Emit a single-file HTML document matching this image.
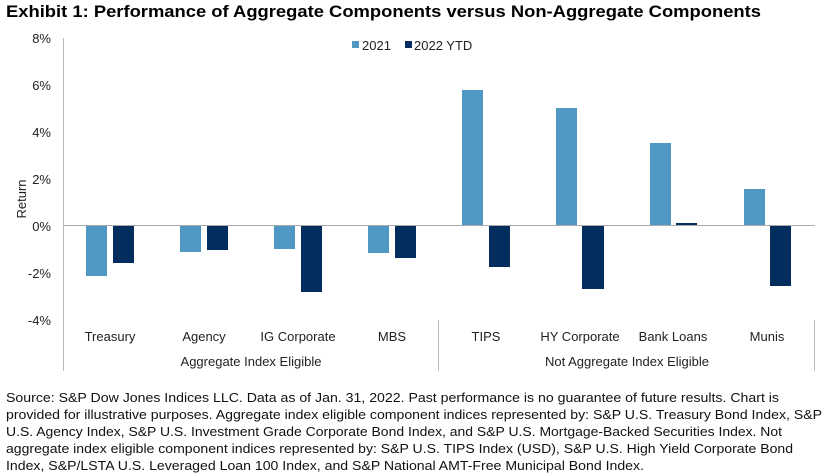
<!DOCTYPE html>
<html><head><meta charset="utf-8"><style>body{margin:0;background:#fff}svg{display:block}text{font-family:"Liberation Sans",Arial,sans-serif}</style></head><body>
<svg width="825" height="476" viewBox="0 0 825 476" xmlns="http://www.w3.org/2000/svg">
<rect width="825" height="476" fill="#fff"/>
<text x="6" y="17" font-size="16.5" font-weight="bold" fill="#000" textLength="755" lengthAdjust="spacingAndGlyphs">Exhibit 1: Performance of Aggregate Components versus Non-Aggregate Components</text>
<g font-size="13" fill="#222" text-anchor="end">
<text x="51" y="43">8%</text><text x="51" y="90">6%</text><text x="51" y="137">4%</text><text x="51" y="184">2%</text><text x="51" y="231">0%</text><text x="51" y="278">-2%</text><text x="51" y="325">-4%</text>
</g>
<text transform="translate(26,199) rotate(-90)" font-size="13" fill="#222" text-anchor="middle">Return</text>
<line x1="63.5" y1="38" x2="63.5" y2="371" stroke="#bbb"/>
<line x1="438.5" y1="320" x2="438.5" y2="371" stroke="#bbb"/>
<line x1="814.5" y1="320" x2="814.5" y2="371" stroke="#bbb"/>
<g fill="#4f98c3">
<rect x="86" y="225" width="21" height="51"/>
<rect x="180" y="225" width="21" height="27"/>
<rect x="274" y="225" width="21" height="24"/>
<rect x="368" y="225" width="21" height="28"/>
<rect x="462" y="90" width="21" height="135"/>
<rect x="556" y="108" width="21" height="117"/>
<rect x="650" y="143" width="21" height="82"/>
<rect x="744" y="189" width="21" height="36"/>
</g>
<g fill="#022d5e">
<rect x="113" y="225" width="21" height="38"/>
<rect x="207" y="225" width="21" height="25"/>
<rect x="301" y="225" width="21" height="67"/>
<rect x="395" y="225" width="21" height="33"/>
<rect x="489" y="225" width="21" height="42"/>
<rect x="582" y="225" width="22" height="64"/>
<rect x="676" y="223" width="21" height="2"/>
<rect x="770" y="225" width="21" height="61"/>
</g>
<line x1="63" y1="225.5" x2="815" y2="225.5" stroke="#aaa"/>
<rect x="352" y="41" width="7" height="7" fill="#4f98c3"/>
<text x="362" y="50" font-size="13" fill="#222">2021</text>
<rect x="405" y="41" width="7" height="7" fill="#022d5e"/>
<text x="414" y="50" font-size="13" fill="#222">2022 YTD</text>
<g font-size="13" fill="#222" text-anchor="middle">
<text x="110" y="341">Treasury</text><text x="204" y="341">Agency</text><text x="298" y="341">IG Corporate</text><text x="392" y="341">MBS</text>
<text x="486" y="341">TIPS</text><text x="580" y="341">HY Corporate</text><text x="673" y="341">Bank Loans</text><text x="767" y="341">Munis</text>
<text x="251" y="366">Aggregate Index Eligible</text><text x="627" y="366">Not Aggregate Index Eligible</text>
</g>
<g font-size="13" fill="#111">
<text x="6" y="402" textLength="773" lengthAdjust="spacingAndGlyphs">Source: S&amp;P Dow Jones Indices LLC. Data as of Jan. 31, 2022. Past performance is no guarantee of future results. Chart is</text>
<text x="6" y="419" textLength="816" lengthAdjust="spacingAndGlyphs">provided for illustrative purposes. Aggregate index eligible component indices represented by: S&amp;P U.S. Treasury Bond Index, S&amp;P</text>
<text x="6" y="436" textLength="776" lengthAdjust="spacingAndGlyphs">U.S. Agency Index, S&amp;P U.S. Investment Grade Corporate Bond Index, and S&amp;P U.S. Mortgage-Backed Securities Index. Not</text>
<text x="6" y="453" textLength="787" lengthAdjust="spacingAndGlyphs">aggregate index eligible component indices represented by: S&amp;P U.S. TIPS Index (USD), S&amp;P U.S. High Yield Corporate Bond</text>
<text x="6" y="470" textLength="638" lengthAdjust="spacingAndGlyphs">Index, S&amp;P/LSTA U.S. Leveraged Loan 100 Index, and S&amp;P National AMT-Free Municipal Bond Index.</text>
</g>
</svg>
</body></html>
